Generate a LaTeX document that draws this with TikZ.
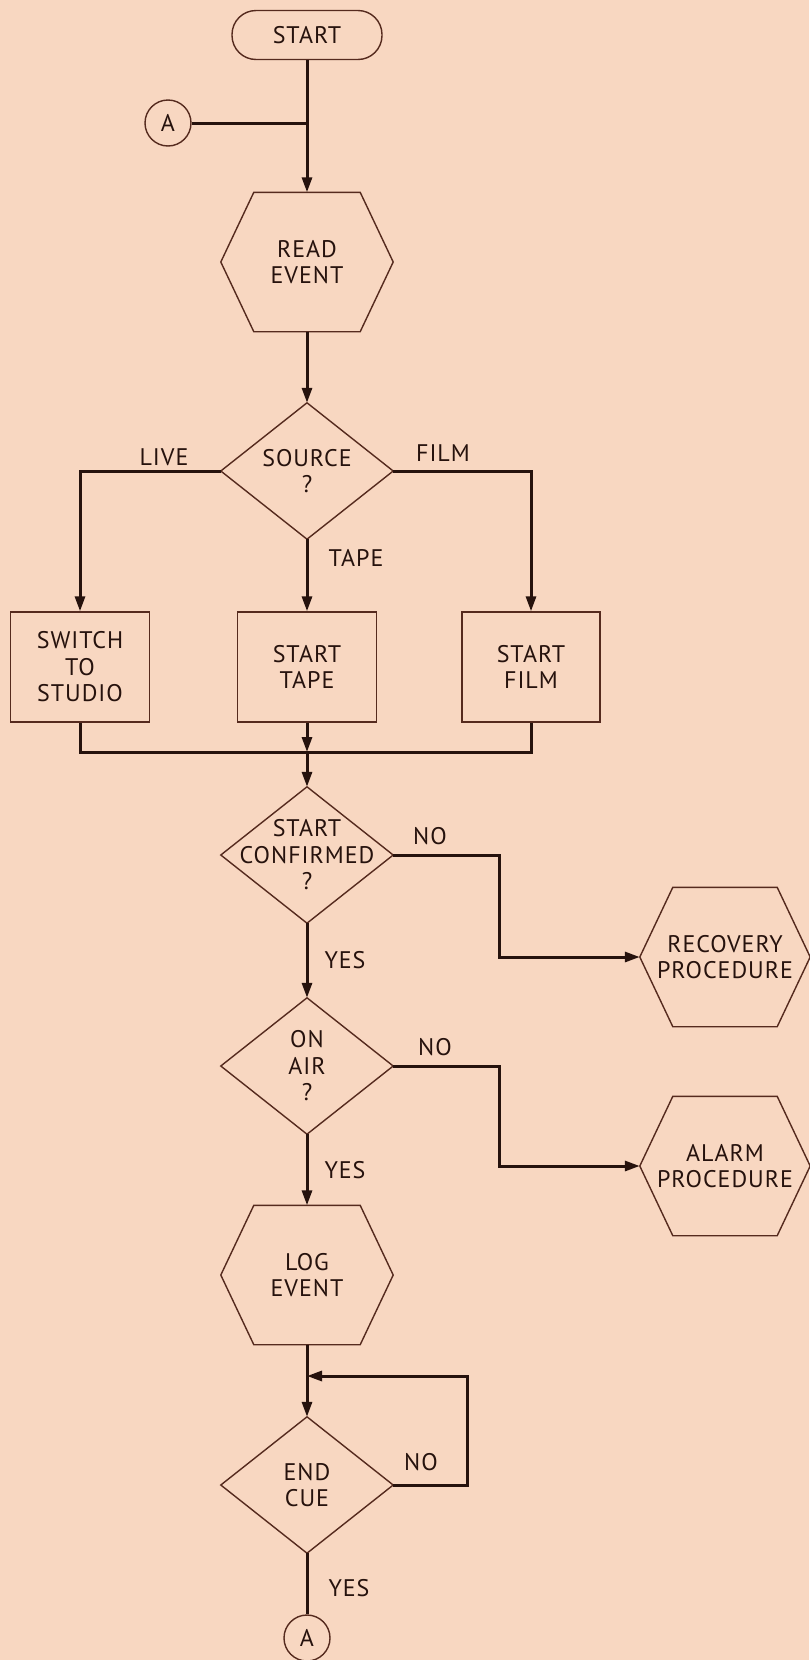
\documentclass[tikz,border=0pt]{standalone}
\usepackage{fontspec}
\setmainfont{PT Sans}[LetterSpace=4]
\usetikzlibrary{arrows.meta}
\definecolor{bg}{RGB}{248,215,193}
\definecolor{ink}{RGB}{38,18,13}
\definecolor{edgec}{RGB}{85,42,30}
\newcommand\fs{\fontsize{24pt}{26.5pt}\selectfont}
\newcommand\diamondpath[1]{\draw[outline] (#1.north) -- (#1.east) -- (#1.south) -- (#1.west) -- cycle;}
\newcommand\hexpath[1]{\draw[outline] ([xshift=33pt]#1.north west) -- ([xshift=-33pt]#1.north east) -- (#1.east) -- ([xshift=-33pt]#1.south east) -- ([xshift=33pt]#1.south west) -- (#1.west) -- cycle;}
\tikzset{
  conn/.style={draw=ink, line width=3pt},
  arr/.style={conn, -{Triangle[length=15pt,width=10pt]}},
  outline/.style={draw=edgec, line width=1.4pt},
  shapebox/.style={rectangle, inner sep=0pt, align=center, text=ink, font=\fs},
  hexbox/.style={shapebox, minimum width=172pt, minimum height=139pt},
  diabox/.style={shapebox, minimum width=172pt, minimum height=136pt},
  procbox/.style={shapebox, outline, minimum height=110pt},
  lbl/.style={text=ink, font=\fs, inner sep=0pt},
  term/.style={shapebox, outline, rounded corners=24pt, minimum width=150pt, minimum height=49pt},
  conncirc/.style={circle, outline, inner sep=0pt, minimum size=46pt, text=ink, font=\fs}
}
\begin{document}
\begin{tikzpicture}[x=1pt, y=-1pt, line join=miter]
\fill[bg] (0,0) rectangle (809,1660);
\useasboundingbox (0,0) rectangle (809,1660);

% nodes
\node[term] (start) at (307,35) {START};
\node[conncirc] (atop) at (168,123) {A};
\coordinate (j1) at (307,123);
\node[hexbox] (read) at (307,262) {READ\\EVENT};
\hexpath{read}
\node[diabox] (source) at (307,471) {SOURCE\\?};
\diamondpath{source}
\node[procbox, minimum width=139pt] (switch) at (80,667) {SWITCH\\TO\\STUDIO};
\node[procbox, minimum width=139pt] (tape) at (307,667) {START\\TAPE};
\node[procbox, minimum width=138pt] (film) at (531,667) {START\\FILM};
\coordinate (j2) at (307,752);
\node[diabox] (conf) at (307,855) {START\\CONFIRMED\\?};
\diamondpath{conf}
\node[hexbox, minimum width=170pt] (recov) at (725,957) {RECOVERY\\PROCEDURE};
\hexpath{recov}
\coordinate (n1) at (499,957);
\node[diabox] (onair) at (307,1066) {ON\\AIR\\?};
\diamondpath{onair}
\node[hexbox, minimum width=170pt] (alarm) at (725,1166) {ALARM\\PROCEDURE};
\hexpath{alarm}
\coordinate (n2) at (499,1166);
\node[hexbox] (log) at (307,1275) {LOG\\EVENT};
\hexpath{log}
\coordinate (j3) at (307,1376);
\coordinate (lc) at (467,1376);
\node[diabox] (endcue) at (307,1485) {END\\CUE};
\diamondpath{endcue}
\node[conncirc] (abot) at (307,1638) {A};

% connectors
\draw[arr] (start.south) -- (read.north);
\draw[conn] (atop.east) -- (j1);
\draw[arr] (read.south) -- (source.north);
\draw[arr] (source.west) -| (switch.north);
\draw[arr] (source.south) -- (tape.north);
\draw[arr] (source.east) -| (film.north);
\draw[conn] (switch.south) |- (j2) -| (film.south);
\draw[arr] (tape.south) -- (j2);
\draw[arr] (j2) -- (conf.north);
\draw[arr] (conf.east) -| (n1) -- (recov.west);
\draw[arr] (conf.south) -- (onair.north);
\draw[arr] (onair.east) -| (n2) -- (alarm.west);
\draw[arr] (onair.south) -- (log.north);
\draw[arr] (log.south) -- (endcue.north);
\draw[arr] (endcue.east) -| (lc) -- (j3);
\draw[conn] (endcue.south) -- (abot.north);

% labels
\node[lbl] (llive) at (164,457) {LIVE};
\node[lbl] (lfilm) at (443,453) {FILM};
\node[lbl] (ltape) at (356,558) {TAPE};
\node[lbl] (lno1) at (430,836) {NO};
\node[lbl] (lyes1) at (345,960) {YES};
\node[lbl] (lno2) at (435,1047) {NO};
\node[lbl] (lyes2) at (345,1170) {YES};
\node[lbl] (lno3) at (421,1462) {NO};
\node[lbl] (lyes3) at (349,1588) {YES};
\end{tikzpicture}
\end{document}
